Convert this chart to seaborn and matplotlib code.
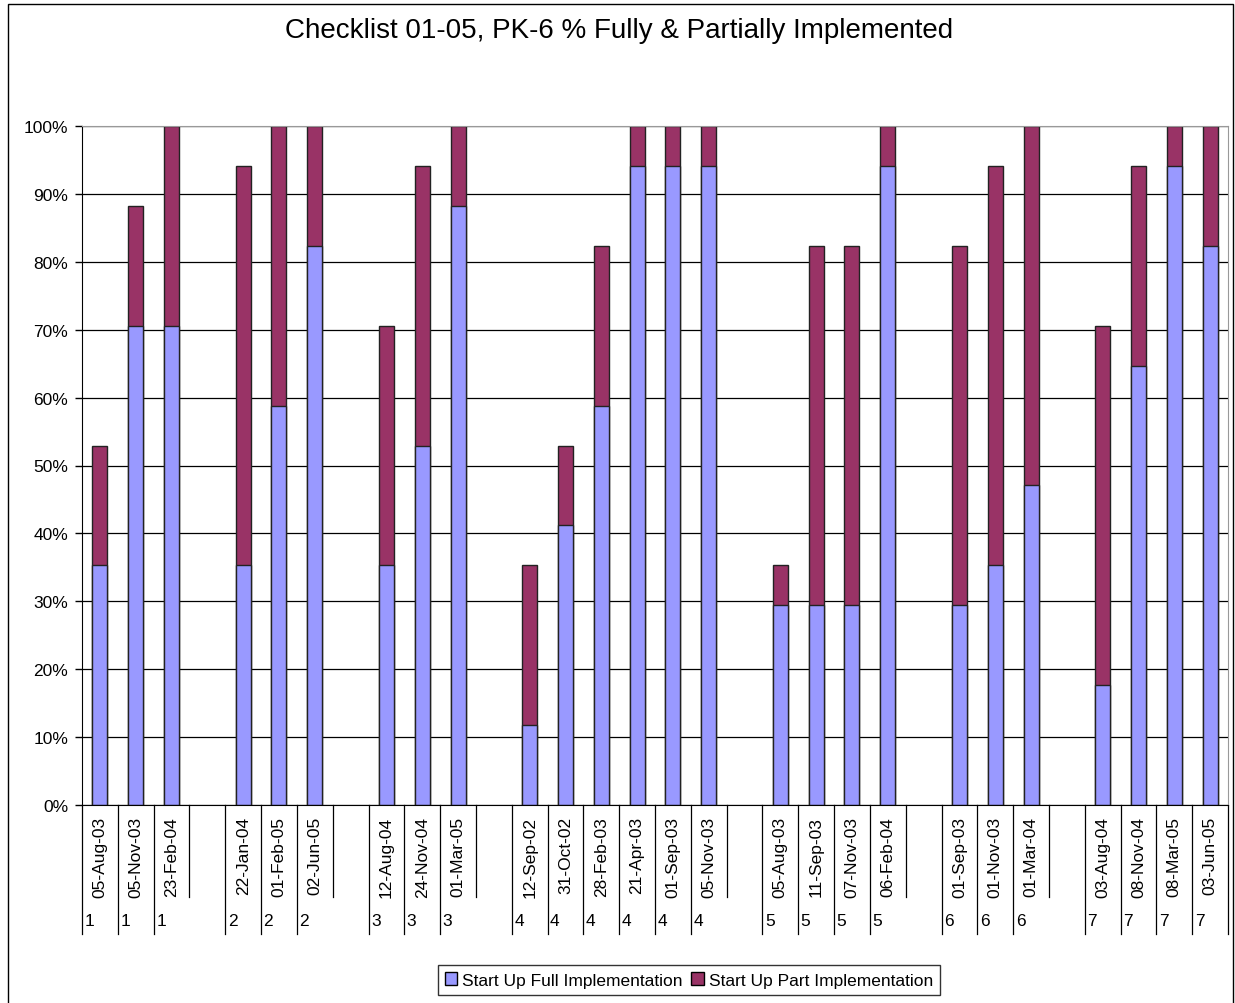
import numpy as np
import pandas as pd
import matplotlib
matplotlib.use('Agg')
import matplotlib.pyplot as plt
import matplotlib.transforms as mtrans
from matplotlib.patches import Patch, Rectangle
import seaborn as sns

# visit dates, school number, % full and % full+part
dates = ['05-Aug-03', '05-Nov-03', '23-Feb-04',
         '22-Jan-04', '01-Feb-05', '02-Jun-05',
         '12-Aug-04', '24-Nov-04', '01-Mar-05',
         '12-Sep-02', '31-Oct-02', '28-Feb-03', '21-Apr-03', '01-Sep-03', '05-Nov-03',
         '05-Aug-03', '11-Sep-03', '07-Nov-03', '06-Feb-04',
         '01-Sep-03', '01-Nov-03', '01-Mar-04',
         '03-Aug-04', '08-Nov-04', '08-Mar-05', '03-Jun-05']
school = [1, 1, 1, 2, 2, 2, 3, 3, 3, 4, 4, 4, 4, 4, 4, 5, 5, 5, 5, 6, 6, 6, 7, 7, 7, 7]
full_pct = [35.3, 70.6, 70.6,
            35.3, 58.8, 82.4,
            35.3, 52.9, 88.2,
            11.8, 41.2, 58.8, 94.1, 94.1, 94.1,
            29.4, 29.4, 29.4, 94.1,
            29.4, 35.3, 47.1,
            17.6, 64.7, 94.1, 82.4]
total_pct = [52.9, 88.2, 100,
             94.1, 100, 100,
             70.6, 94.1, 100,
             35.3, 52.9, 82.4, 100, 100, 100,
             35.3, 82.4, 82.4, 100,
             82.4, 94.1, 100,
             70.6, 94.1, 100, 100]

title = 'Checklist 01-05, PK-6 % Fully & Partially Implemented'
full_label = 'Start Up Full Implementation'
part_label = 'Start Up Part Implementation'
full_col = '#9999FF'
part_col = '#993366'

plt.rcParams['font.family'] = ['Liberation Sans', 'DejaVu Sans']

# one blank category slot between schools
rows = []
prev = None
for d, s, f, t in zip(dates, school, full_pct, total_pct):
    if prev is not None and s != prev:
        rows.append({'slot': 'gap%d' % s, 'date': '', 'school': '', 'full': np.nan, 'total': np.nan})
    rows.append({'slot': '%d_%s' % (s, d), 'date': d, 'school': str(s), 'full': f, 'total': t})
    prev = s
df = pd.DataFrame(rows)
n = len(df)

W, H = 1235, 1004
fig = plt.figure(figsize=(W / 100, H / 100), dpi=100)
ax = fig.add_axes([82 / W, 1 - 806 / H, (1228 - 82) / W, (806 - 127) / H])

sns.barplot(data=df, x='slot', y='total', order=list(df['slot']), color=part_col,
            saturation=1, width=0.42, edgecolor='#222222', linewidth=1,
            errorbar=None, ax=ax)
sns.barplot(data=df, x='slot', y='full', order=list(df['slot']), color=full_col,
            saturation=1, width=0.42, edgecolor='#222222', linewidth=1,
            errorbar=None, ax=ax)

ax.set_xlim(-0.5, n - 0.5)
ax.set_ylim(0, 100)
ax.set_yticks(np.arange(0, 101, 10))
ax.set_yticklabels(['%d%%' % v for v in range(0, 101, 10)])
ax.yaxis.grid(True, color='black', linewidth=0.9)
ax.set_axisbelow(True)
ax.set_xlabel('')
ax.set_ylabel('')
ax.set_xticks(range(n))
ax.set_xticklabels(df['date'], rotation=90, fontsize=12.5)
ax.tick_params(axis='x', length=0, pad=8)
ax.tick_params(axis='y', length=5, width=1, direction='out', pad=5, labelsize=12.5)
for side in ['top', 'right']:
    ax.spines[side].set_color('#999999')
for side in ['left', 'bottom']:
    ax.spines[side].set_color('black')

# category separators and school numbers under the axis
trans = mtrans.blended_transform_factory(ax.transData, ax.transAxes)
y_short = -(898 - 806) / (806 - 127)
y_long = -(935 - 806) / (806 - 127)
y_num = -(922 - 806) / (806 - 127)
for i, s in enumerate(df['school']):
    y_end = y_long if s != '' else y_short
    ax.plot([i - 0.5, i - 0.5], [0, y_end], color='black', lw=0.9, transform=trans, clip_on=False)
    if s != '':
        ax.text(i - 0.5 + 0.07, y_num, s, transform=trans, ha='left', va='center', fontsize=12.5)
ax.plot([n - 0.5, n - 0.5], [0, y_long], color='black', lw=0.9, transform=trans, clip_on=False)

fig.text(619 / W, 1 - 31 / H, title, ha='center', va='center', fontsize=20)

handles = [Patch(facecolor=full_col, edgecolor='black', label=full_label),
           Patch(facecolor=part_col, edgecolor='black', label=part_label)]
leg = fig.legend(handles=handles, loc='center', bbox_to_anchor=(689 / W, 1 - 981 / H),
                 ncol=2, frameon=True, fancybox=False, edgecolor='black',
                 handlelength=0.7, handleheight=0.7, handletextpad=0.3,
                 columnspacing=0.5, borderpad=0.4, fontsize=12.5)
leg.get_frame().set_linewidth(1)

fig.add_artist(Rectangle((8 / W, -0.01), (1233 - 8) / W, 1 - 5 / H + 0.01,
                         transform=fig.transFigure, fill=False, edgecolor='black', lw=1))

fig.savefig('out.png', dpi=100)
